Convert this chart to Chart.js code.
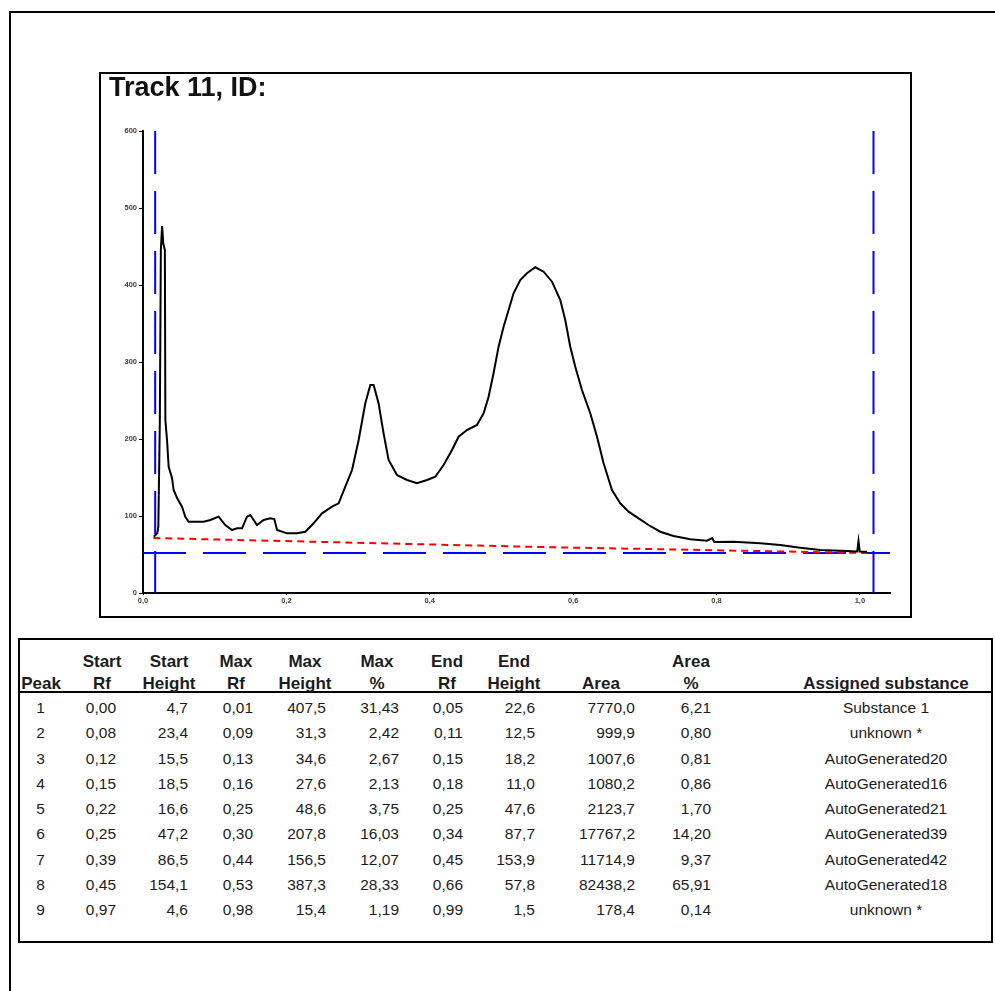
<!DOCTYPE html>
<html>
<head>
<meta charset="utf-8">
<script src="https://cdn.jsdelivr.net/npm/chart.js@4.4.1/dist/chart.umd.min.js"></script>
<style>
  html, body { margin: 0; padding: 0; background: #fff; }
  body { width: 995px; height: 991px; position: relative; overflow: hidden; font-family: "Liberation Sans", Arial, sans-serif; color: #1c1c1c; }
  .page { position: absolute; left: 9px; top: 11px; width: 1100px; height: 1100px; border: 2px solid #000; box-sizing: border-box; }
  .frame { position: absolute; left: 99px; top: 72px; width: 813px; height: 546px; border: 2px solid #000; box-sizing: border-box; }
  #chart { position: absolute; left: 100px; top: 73px; }
  .title { position: absolute; left: 109px; top: 74px; font: bold 27px/27px "Liberation Sans", Arial, sans-serif; color: #111; white-space: nowrap; }
  .tbl { position: absolute; left: 18px; top: 638px; width: 975px; height: 305px; border: 2px solid #000; box-sizing: border-box; }
  .rule { position: absolute; left: 18px; top: 691px; width: 975px; height: 2px; background: #000; }
  .c { position: absolute; height: 20px; line-height: 20px; white-space: nowrap; }
  .h { font-weight: bold; font-size: 17px; }
  .d { font-size: 15.5px; }
</style>
</head>
<body>
<div class="page"></div>
<div class="frame"></div>
<canvas id="chart" width="811" height="544"></canvas>
<div class="title">Track 11, ID:</div>
<div class="tbl"></div>
<div class="rule"></div>
<div id="table"></div>
<script>
// densitogram trace (x = Rf, y = AU)
const traceRf = [-0.005, 0.000, 0.0014, 0.0035, 0.0049, 0.0066, 0.0084, 0.0105, 0.0112, 0.0135, 0.0158,
  0.0205, 0.0227, 0.0275, 0.0344, 0.039, 0.0437, 0.0646, 0.0739, 0.0855, 0.0948, 0.1042, 0.1112, 0.1181,
  0.1251, 0.1297, 0.139, 0.1483, 0.1576, 0.1632, 0.167, 0.1809, 0.1948, 0.2064, 0.218, 0.2297, 0.2437,
  0.2529, 0.2622, 0.2716, 0.2808, 0.2901, 0.2971, 0.3017, 0.3086, 0.3156, 0.3226, 0.3343, 0.3483, 0.3622,
  0.3762, 0.3877, 0.3993, 0.411, 0.4202, 0.4319, 0.4459, 0.4551, 0.4621, 0.469, 0.476, 0.483, 0.49, 0.4969,
  0.5063, 0.5156, 0.5272, 0.5388, 0.5505, 0.5621, 0.569, 0.576, 0.583, 0.5923, 0.6039, 0.6133, 0.6225,
  0.6342, 0.6457, 0.6573, 0.6713, 0.6852, 0.7015, 0.7201, 0.7434, 0.7667, 0.774, 0.7769, 0.8038, 0.841,
  0.8689, 0.8968, 0.9247, 0.9619, 0.9763, 0.9781, 0.9798, 0.9898];
const traceAU = [73.1, 77.9, 86.1, 224.7, 445.5, 476.6, 453.2, 445.5, 224.7, 198.7, 164.0,
  149.4, 133.8, 123.4, 112.1, 99.1, 92.6, 92.6, 94.8, 99.1, 88.3, 81.8, 84.0, 84.0,
  99.1, 101.3, 88.3, 94.8, 97.0, 96.1, 81.8, 77.5, 77.5, 79.6, 90.5, 103.5, 112.1,
  116.5, 138.1, 159.7, 198.7, 246.4, 270.1, 270.1, 246.4, 207.4, 172.7, 153.2, 146.8, 142.5,
  146.8, 151.0, 166.2, 185.7, 203.0, 211.7, 218.2, 233.4, 254.9, 285.3, 319.9, 345.8, 367.5, 389.2,
  406.5, 415.2, 423.0, 417.3, 404.3, 380.5, 354.5, 319.9, 293.9, 263.6, 233.4, 203.0, 168.4,
  133.8, 116.5, 105.6, 97.0, 88.3, 79.6, 74.0, 69.7, 67.9, 71.4, 66.2, 66.6, 64.5,
  62.3, 58.8, 55.8, 54.5, 53.9, 67.5, 53.9, 53.6];

// baseline (red dashed)
const baseRf = [-0.0056, 0.5342, 0.9902];
const baseAU = [71.4, 59.7, 51.9];

// application start / front lines and zero level (blue)
const startRf = -0.003;
const frontRf = 0.999;
const zeroLevel = 51.9;

const yTickValues = [0, 100, 200, 300, 400, 500, 600];
const yTickLabels = ["0", "100", "200", "300", "400", "500", "600"];
const xTickValues = [-0.02, 0.18, 0.38, 0.58, 0.78, 0.98];
const xTickLabels = ["0,0", "0,2", "0,4", "0,6", "0,8", "1,0"];

// peak table
const peakNo = [1, 2, 3, 4, 5, 6, 7, 8, 9];
const peakStartRf = [0.00, 0.08, 0.12, 0.15, 0.22, 0.25, 0.39, 0.45, 0.97];
const peakStartHeight = [4.7, 23.4, 15.5, 18.5, 16.6, 47.2, 86.5, 154.1, 4.6];
const peakMaxRf = [0.01, 0.09, 0.13, 0.16, 0.25, 0.30, 0.44, 0.53, 0.98];
const peakMaxHeight = [407.5, 31.3, 34.6, 27.6, 48.6, 207.8, 156.5, 387.3, 15.4];
const peakMaxPct = [31.43, 2.42, 2.67, 2.13, 3.75, 16.03, 12.07, 28.33, 1.19];
const peakEndRf = [0.05, 0.11, 0.15, 0.18, 0.25, 0.34, 0.45, 0.66, 0.99];
const peakEndHeight = [22.6, 12.5, 18.2, 11.0, 47.6, 87.7, 153.9, 57.8, 1.5];
const peakArea = [7770.0, 999.9, 1007.6, 1080.2, 2123.7, 17767.2, 11714.9, 82438.2, 178.4];
const peakAreaPct = [6.21, 0.80, 0.81, 0.86, 1.70, 14.20, 9.37, 65.91, 0.14];
const peakSubstance = ["Substance 1", "unknown *", "AutoGenerated20", "AutoGenerated16", "AutoGenerated21",
  "AutoGenerated39", "AutoGenerated42", "AutoGenerated18", "unknown *"];

const toPts = (xs, ys) => xs.map((x, i) => ({ x: x, y: ys[i] }));
const blue = "#0000ff";
const tickFont = { size: 7.5, weight: "bold", family: "Liberation Sans" };

new Chart(document.getElementById("chart"), {
  type: "line",
  data: {
    datasets: [
      { data: toPts(traceRf, traceAU), borderColor: "#000", borderWidth: 2, order: 0 },
      { data: toPts(baseRf, baseAU), borderColor: "#ff0000", borderWidth: 2, borderDash: [7, 5], order: 1 },
      { data: [{ x: -0.02, y: zeroLevel }, { x: 1.022, y: zeroLevel }], borderColor: blue, borderWidth: 2, borderDash: [43, 17], order: 2 },
      { data: [{ x: startRf, y: 600 }, { x: startRf, y: zeroLevel }], borderColor: blue, borderWidth: 2, borderDash: [43, 17], order: 2 },
      { data: [{ x: startRf, y: zeroLevel }, { x: startRf, y: 0 }], borderColor: blue, borderWidth: 2, order: 2 },
      { data: [{ x: frontRf, y: 600 }, { x: frontRf, y: zeroLevel }], borderColor: blue, borderWidth: 2, borderDash: [43, 17], order: 2 },
      { data: [{ x: frontRf, y: zeroLevel }, { x: frontRf, y: 0 }], borderColor: blue, borderWidth: 2, order: 2 },
    ],
  },
  options: {
    responsive: false,
    animation: false,
    devicePixelRatio: 1,
    parsing: false,
    elements: { point: { radius: 0 }, line: { tension: 0, fill: false } },
    layout: { padding: { left: 0, top: 58, right: 21, bottom: 0 } },
    plugins: { legend: { display: false }, tooltip: { enabled: false } },
    scales: {
      x: {
        type: "linear",
        min: -0.02,
        max: 1.022,
        afterFit: (s) => { s.height = 24; },
        afterBuildTicks: (s) => { s.ticks = xTickValues.map(v => ({ value: v })); },
        border: { color: "#000", width: 2 },
        grid: { drawOnChartArea: false, color: "#000", tickLength: 2 },
        ticks: {
          padding: 1,
          maxRotation: 0,
          autoSkip: false,
          color: "#4a3c30",
          font: tickFont,
          callback: (v, i) => xTickLabels[i],
        },
      },
      y: {
        type: "linear",
        min: 0,
        max: 600,
        afterFit: (s) => { s.width = 43; },
        afterBuildTicks: (s) => { s.ticks = yTickValues.map(v => ({ value: v })); },
        border: { color: "#000", width: 2 },
        grid: { drawOnChartArea: false, color: "#000", tickLength: 4 },
        ticks: {
          padding: 2,
          color: "#4a3c30",
          font: tickFont,
          callback: (v, i) => yTickLabels[i],
        },
      },
    },
  },
});

// table layout
const fmt = (v, n) => v.toFixed(n).replace(".", ",");
const rowY = (i) => 708 + i * 25.25;
const host = document.getElementById("table");

function put(text, cls, y, opts) {
  const el = document.createElement("div");
  el.className = "c " + cls;
  el.textContent = text;
  el.style.top = (y - 10) + "px";
  if (opts.center !== undefined) {
    el.style.left = (opts.center - 120) + "px";
    el.style.width = "240px";
    el.style.textAlign = "center";
  } else {
    el.style.left = (opts.right - 200) + "px";
    el.style.width = "200px";
    el.style.textAlign = "right";
  }
  host.appendChild(el);
}

const columns = [
  { h1: "", h2: "Peak", hc: 41, vals: peakNo.map(String), vc: 40.5 },
  { h1: "Start", h2: "Rf", hc: 102, vals: peakStartRf.map(v => fmt(v, 2)), vr: 116 },
  { h1: "Start", h2: "Height", hc: 169, vals: peakStartHeight.map(v => fmt(v, 1)), vr: 188 },
  { h1: "Max", h2: "Rf", hc: 236, vals: peakMaxRf.map(v => fmt(v, 2)), vr: 253 },
  { h1: "Max", h2: "Height", hc: 305, vals: peakMaxHeight.map(v => fmt(v, 1)), vr: 326 },
  { h1: "Max", h2: "%", hc: 377, vals: peakMaxPct.map(v => fmt(v, 2)), vr: 399 },
  { h1: "End", h2: "Rf", hc: 447, vals: peakEndRf.map(v => fmt(v, 2)), vr: 463 },
  { h1: "End", h2: "Height", hc: 514, vals: peakEndHeight.map(v => fmt(v, 1)), vr: 535 },
  { h1: "", h2: "Area", hc: 601, vals: peakArea.map(v => fmt(v, 1)), vr: 635 },
  { h1: "Area", h2: "%", hc: 691, vals: peakAreaPct.map(v => fmt(v, 2)), vr: 711 },
  { h1: "", h2: "Assigned substance", hc: 886, vals: peakSubstance, vc: 886 },
];

columns.forEach(col => {
  if (col.h1) put(col.h1, "h", 662, { center: col.hc });
  put(col.h2, "h", 684, { center: col.hc });
  col.vals.forEach((t, i) => {
    if (col.vc !== undefined) put(t, "d", rowY(i), { center: col.vc });
    else put(t, "d", rowY(i), { right: col.vr });
  });
});
</script>
</body>
</html>
